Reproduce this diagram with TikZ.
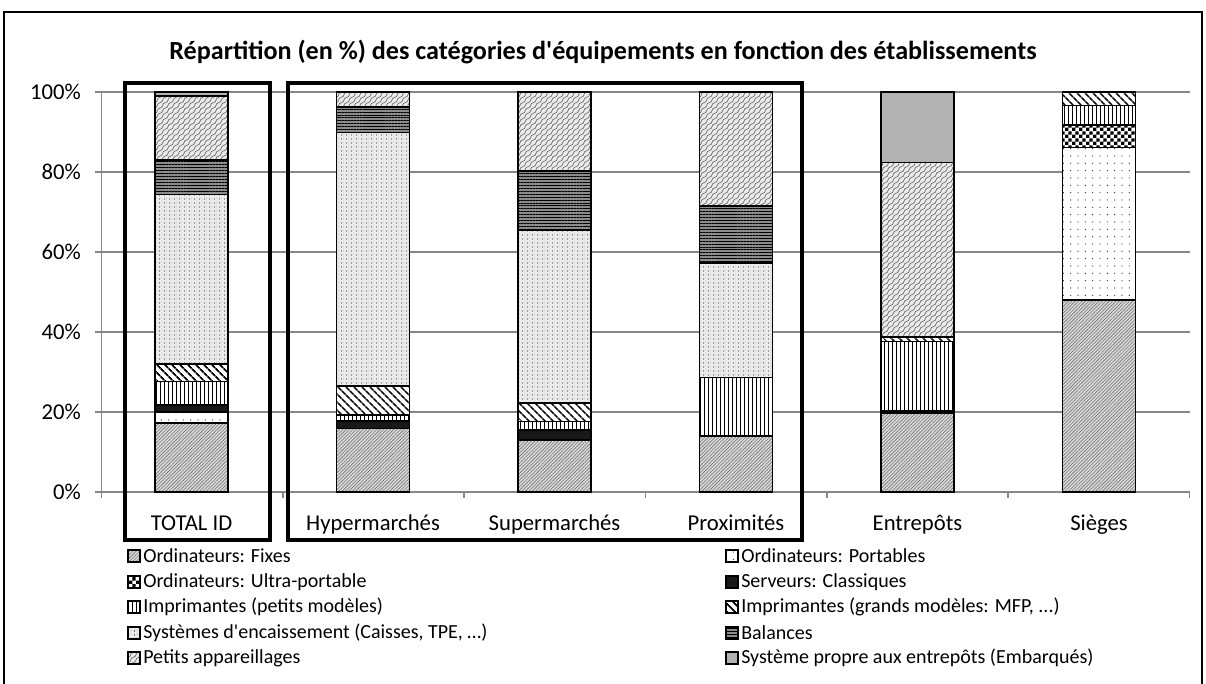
\documentclass[tikz,border=0pt]{standalone}
\usepackage{fontspec}
\setmainfont{Carlito}
\usetikzlibrary{patterns,patterns.meta}

\pgfdeclarepatternformonly{bigcheck}{\pgfpointorigin}{\pgfqpoint{5.4pt}{5.4pt}}{\pgfqpoint{5.4pt}{5.4pt}}{%
 \pgfpathrectangle{\pgfpointorigin}{\pgfqpoint{2.7pt}{2.7pt}}%
 \pgfpathrectangle{\pgfqpoint{2.7pt}{2.7pt}}{\pgfqpoint{2.7pt}{2.7pt}}%
 \pgfusepath{fill}}
\pgfdeclarepatternformonly{waves}{\pgfqpoint{-0.5pt}{-0.5pt}}{\pgfqpoint{4.5pt}{4.5pt}}{\pgfqpoint{4pt}{4pt}}{%
 \pgfsetlinewidth{0.5pt}%
 \pgfpathmoveto{\pgfqpoint{0pt}{0pt}}%
 \pgfpathcurveto{\pgfqpoint{3pt}{0.5pt}}{\pgfqpoint{1pt}{3.5pt}}{\pgfqpoint{4pt}{4pt}}%
 \pgfusepath{stroke}}
\pgfdeclarepatternformonly{vdash}{\pgfpointorigin}{\pgfqpoint{4pt}{3pt}}{\pgfqpoint{4pt}{3pt}}{%
 \pgfpathrectangle{\pgfpointorigin}{\pgfqpoint{0.6pt}{1.8pt}}%
 \pgfpathrectangle{\pgfqpoint{2pt}{1.5pt}}{\pgfqpoint{0.5pt}{0.5pt}}%
 \pgfusepath{fill}}

\tikzset{
 segline/.style={draw=black, line width=1.3pt},
 fixes/.style={preaction={fill=black!15}, pattern={Lines[angle=45,distance=1.8pt,line width=0.45pt]}, pattern color=black!55},
 portables/.style={preaction={fill=white}, pattern={Dots[radius=0.45pt,distance=5.5pt]}, pattern color=black!85},
 ultra/.style={preaction={fill=white}, pattern=bigcheck, pattern color=black},
 serveurs/.style={fill=black!90},
 imprp/.style={preaction={fill=white}, pattern={Lines[angle=90,distance=3pt,line width=0.7pt]}, pattern color=black},
 imprg/.style={preaction={fill=white}, pattern={Lines[angle=-45,distance=4pt,line width=1.3pt]}, pattern color=black},
 encaiss/.style={preaction={fill=black!8}, pattern=vdash, pattern color=black!55},
 balances/.style={preaction={fill=black!45}, pattern={Lines[angle=0,distance=2.2pt,line width=0.6pt]}, pattern color=black},
 petitsapp/.style={preaction={fill=black!8}, pattern=waves, pattern color=black!60},
 entrep/.style={fill=black!30},
 gridline/.style={draw=black!47, line width=1.1pt},
 hl/.style={draw=black, line width=3pt},
 lbl/.style={font=\fontsize{17}{20}\selectfont, inner sep=0pt},
 leg/.style={font=\fontsize{15}{18}\selectfont, anchor=west, inner sep=0pt},
 legicon/.style={draw=black, line width=1.1pt},
}

\newcommand\barseg[4]{\path[segline,#4] ({#1-36.5},{492-4*(#2)}) rectangle ({#1+36.5},{492-4*(#3)});}
\newcommand\legitem[4]{% x, y, style, text
 \path[legicon,#3] (#1,{#2-6}) rectangle ({#1+12},{#2+6});
 \node[leg] at ({#1+15},#2) {#4};}

\def\xTot{191.5}
\def\xHyp{373}
\def\xSup{554.5}
\def\xPro{736}
\def\xEnt{917.5}
\def\xSie{1099}

\begin{document}
\begin{tikzpicture}[x=0.75pt,y=-0.75pt]
\useasboundingbox (0,0) rectangle (1206,684);
% outer frame
\draw[line width=1.6pt] (4,700) -- (4,12) -- (1202,12) -- (1202,700);
% title
\node[font=\bfseries\fontsize{19.6}{22}\selectfont] (title) at (603,52) {Répartition (en \%) des catégories d\textquotesingle{}équipements en fonction des établissements};
% grid
\foreach \p in {0,20,...,100} {
  \draw[gridline] (95,{492-4*\p}) -- (1189.5,{492-4*\p});
  \node[lbl, anchor=east] (y\p) at (81,{492-4*\p}) {\p\%};
}
\draw[gridline] (101.5,92) -- (101.5,492);
\foreach \k in {0,...,6} {
  \draw[gridline] ({101.5+181.33*\k},492) -- ({101.5+181.33*\k},498);
}
% TOTAL ID
\barseg{\xTot}{0}{17.3}{fixes}
\barseg{\xTot}{17.3}{20.0}{portables}
\barseg{\xTot}{20.0}{21.7}{serveurs}
\barseg{\xTot}{21.7}{27.6}{imprp}
\barseg{\xTot}{27.6}{32.0}{imprg}
\barseg{\xTot}{32.0}{74.4}{encaiss}
\barseg{\xTot}{74.4}{83.0}{balances}
\barseg{\xTot}{83.0}{99.0}{petitsapp}
\barseg{\xTot}{99.0}{100}{entrep}
% Hypermarches
\barseg{\xHyp}{0}{15.9}{fixes}
\barseg{\xHyp}{15.9}{17.8}{serveurs}
\barseg{\xHyp}{17.8}{19.25}{imprp}
\barseg{\xHyp}{19.25}{26.5}{imprg}
\barseg{\xHyp}{26.5}{89.9}{encaiss}
\barseg{\xHyp}{89.9}{96.2}{balances}
\barseg{\xHyp}{96.2}{100}{petitsapp}
% Supermarches
\barseg{\xSup}{0}{13.0}{fixes}
\barseg{\xSup}{13.0}{15.5}{serveurs}
\barseg{\xSup}{15.5}{17.6}{imprp}
\barseg{\xSup}{17.6}{22.2}{imprg}
\barseg{\xSup}{22.2}{65.5}{encaiss}
\barseg{\xSup}{65.5}{80.3}{balances}
\barseg{\xSup}{80.3}{100}{petitsapp}
% Proximites
\barseg{\xPro}{0}{14.0}{fixes}
\barseg{\xPro}{14.0}{28.6}{imprp}
\barseg{\xPro}{28.6}{57.2}{encaiss}
\barseg{\xPro}{57.2}{71.5}{balances}
\barseg{\xPro}{71.5}{100}{petitsapp}
% Entrepots
\barseg{\xEnt}{0}{19.7}{fixes}
\barseg{\xEnt}{19.7}{20.3}{serveurs}
\barseg{\xEnt}{20.3}{37.6}{imprp}
\barseg{\xEnt}{37.6}{38.8}{imprg}
\barseg{\xEnt}{38.8}{82.4}{petitsapp}
\barseg{\xEnt}{82.4}{100}{entrep}
% Sieges
\barseg{\xSie}{0}{48.0}{fixes}
\barseg{\xSie}{48.0}{86.1}{portables}
\barseg{\xSie}{86.1}{91.75}{ultra}
\barseg{\xSie}{91.75}{96.6}{imprp}
\barseg{\xSie}{96.6}{100}{imprg}
% category labels
\node[lbl, anchor=base] (lTot) at (\xTot,530) {TOTAL ID};
\node[lbl, anchor=base] (lHyp) at (\xHyp,530) {Hypermarchés};
\node[lbl, anchor=base] (lSup) at (\xSup,530) {Supermarchés};
\node[lbl, anchor=base] (lPro) at (\xPro,530) {Proximités};
\node[lbl, anchor=base] (lEnt) at (\xEnt,530) {Entrepôts};
\node[lbl, anchor=base] (lSie) at (\xSie,530) {Sièges};
% highlight boxes
\draw[hl] (124.5,83) rectangle (269.5,540);
\draw[hl] (288,83) rectangle (802,540);
% legend
\legitem{128}{556}{fixes}{Ordinateurs: Fixes}
\legitem{128}{582}{ultra}{Ordinateurs: Ultra-portable}
\legitem{128}{607}{imprp}{Imprimantes (petits modèles)}
\legitem{128}{633}{encaiss}{Systèmes d\textquotesingle{}encaissement (Caisses, TPE, …)}
\legitem{128}{658}{petitsapp}{Petits appareillages}
\legitem{726}{556}{portables}{Ordinateurs: Portables}
\legitem{726}{582}{serveurs}{Serveurs: Classiques}
\legitem{726}{607}{imprg}{Imprimantes (grands modèles: MFP, ...)}
\legitem{726}{633}{balances}{Balances}
\legitem{726}{658}{entrep}{Système propre aux entrepôts (Embarqués)}
\end{tikzpicture}
\end{document}
